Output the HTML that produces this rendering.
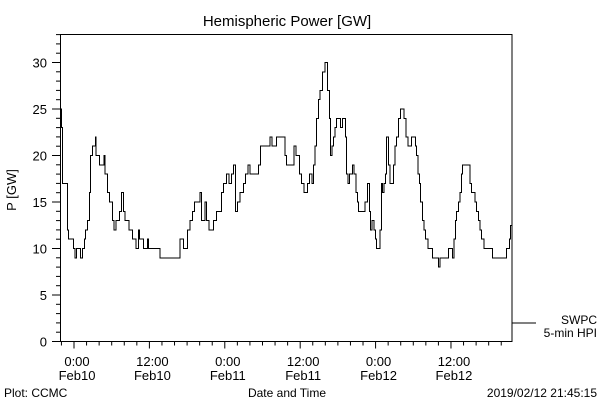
<!DOCTYPE html>
<html><head><meta charset="utf-8"><style>
body{margin:0;background:#fff}
svg{display:block;font-family:"Liberation Sans",sans-serif}
</style></head><body>
<svg id="chart" width="600" height="400" viewBox="0 0 600 400">
<text x="287" y="26" font-size="15" text-anchor="middle">Hemispheric Power [GW]</text>
<text transform="translate(16,190) rotate(-90)" font-size="13" text-anchor="middle">P [GW]</text>
<text x="287" y="397" font-size="12" text-anchor="middle">Date and Time</text>
<text x="4" y="397" font-size="12">Plot: CCMC</text>
<text x="597" y="397" font-size="12" text-anchor="end">2019/02/12 21:45:15</text>
<line x1="512" y1="323" x2="536" y2="323" stroke="#000"/>
<text x="597" y="324" font-size="12" text-anchor="end">SWPC</text>
<text x="597" y="337" font-size="12" text-anchor="end">5-min HPI</text>
<g id="axes"></g>
<rect x="60.5" y="34.5" width="451.5" height="307" fill="none" stroke="#000"/>
</svg>
<script>
const stepTimes=[-2.12,-1.96,-1.8,-1.06,-0.85,-0.1,0.16,0.42,1.06,1.38,1.64,1.86,2.18,2.44,2.65,2.97,3.4,3.5,4.03,4.77,4.93,5.3,5.62,6.15,6.37,6.68,7.21,7.59,7.85,8.12,8.75,9.34,9.87,10.24,10.4,11.03,11.67,11.88,13.69,16.87,17.4,18.04,18.46,18.89,19.15,20.05,20.32,20.85,21.11,21.49,22.18,22.71,23.5,23.77,24.3,24.67,25.09,25.36,25.73,26.0,26.42,26.95,27.27,27.69,28.01,29.39,29.71,31.19,31.51,32.25,33.58,33.85,35.01,35.33,35.86,36.23,36.6,37.14,37.45,37.88,38.09,38.36,38.62,38.89,39.15,39.58,39.95,40.32,40.64,40.85,41.06,41.27,41.54,41.8,42.44,42.76,43.18,43.4,43.61,43.82,44.35,44.56,44.88,45.09,45.31,46.31,46.68,47.0,47.21,47.43,47.75,47.96,48.17,48.7,48.91,49.13,49.34,49.55,49.76,50.03,50.29,50.82,51.09,51.35,51.67,51.99,52.52,52.84,53.16,53.69,54.32,54.54,54.75,54.96,55.17,55.49,55.7,55.92,56.34,57.08,57.98,58.25,59.58,60.27,60.48,60.69,60.9,61.17,61.43,61.7,61.86,63.02,63.29,63.82,64.09,64.35,64.62,64.88,65.25,66.63,68.86,69.29,69.5];
const stepValues=[25,23,17,12,11,10,9,10,9,10,11,12,13,16,20,21,22,20,19,20,18,16,15,13,12,13,14,16,14,13,12,11,10,12,11,10,11,10,9,11,10,12,13,14,15,16,13,15,13,12,13,14,16,17,18,17,18,19,14,15,16,17,18,19,18,19,21,22,21,22,20,19,21,20,18,17,16,17,18,17,19,21,24,26,27,29,30,27,24,20,21,22,23,24,23,24,22,18,17,18,19,18,16,15,14,15,17,14,12,13,12,11,10,12,17,16,17,18,22,19,17,19,21,22,24,25,24,22,21,22,21,20,18,17,15,13,12,11,10,9,8,9,10,9,11,13,14,15,16,18,19,17,16,15,14,13,12,11,10,9,10,11,12.5];
const yTickLabels=[0,5,10,15,20,25,30];
const xTickHours=[0,12,24,36,48,60];
const xTickTimes=["0:00","12:00","0:00","12:00","0:00","12:00"];
const xTickDays=["Feb10","Feb10","Feb11","Feb11","Feb12","Feb12"];
const tEnd=69.75;

const X0=60.5,X1=512,Y0=341.5;
function xs(h){return 74+h*6.283;}
function ys(v){return Y0-v*9.3;}
const NS="http://www.w3.org/2000/svg";
const svg=document.getElementById('chart');
const ax=document.getElementById('axes');
function mk(t,a){const e=document.createElementNS(NS,t);for(const k in a)e.setAttribute(k,a[k]);return e;}
for(let v=0;v<=33;v++){
  const major=v%5===0;
  const l=mk('line',{x1:major?52:56,x2:X0,y1:ys(v),y2:ys(v),stroke:'#000'});
  
  
  ax.appendChild(l);
}
yTickLabels.forEach(v=>{
  const t=mk('text',{x:47,y:ys(v)+5,'font-size':13,'text-anchor':'end'});
  t.textContent=v;
  
  
  ax.appendChild(t);
});
for(let h=-2;h<=69;h+=2){
  const major=h%12===0;
  const l=mk('line',{x1:xs(h),x2:xs(h),y1:Y0,y2:Y0+(major?7:4),stroke:'#000'});
  
  
  ax.appendChild(l);
}
xTickHours.forEach((h,i)=>{
  const t=mk('text',{x:xs(h)+3,y:366,'font-size':13,'text-anchor':'middle'});
  t.textContent=xTickTimes[i];
  
  
  ax.appendChild(t);
  const d=mk('text',{x:xs(h)+3,y:380,'font-size':13,'text-anchor':'middle'});
  d.textContent=xTickDays[i];
  
  
  ax.appendChild(d);
});
let p='';
for(let i=0;i<stepTimes.length;i++){
  const x=xs(stepTimes[i]),y=ys(stepValues[i]);
  p+=(i===0?'M':'L')+x.toFixed(1)+' '+y.toFixed(1);
  const xn=xs(i+1<stepTimes.length?stepTimes[i+1]:tEnd);
  p+='L'+xn.toFixed(1)+' '+y.toFixed(1);
}
const path=mk('path',{d:p,fill:'none',stroke:'#000','stroke-width':1,'shape-rendering':'crispEdges'});


svg.appendChild(path);
</script>
</body></html>
